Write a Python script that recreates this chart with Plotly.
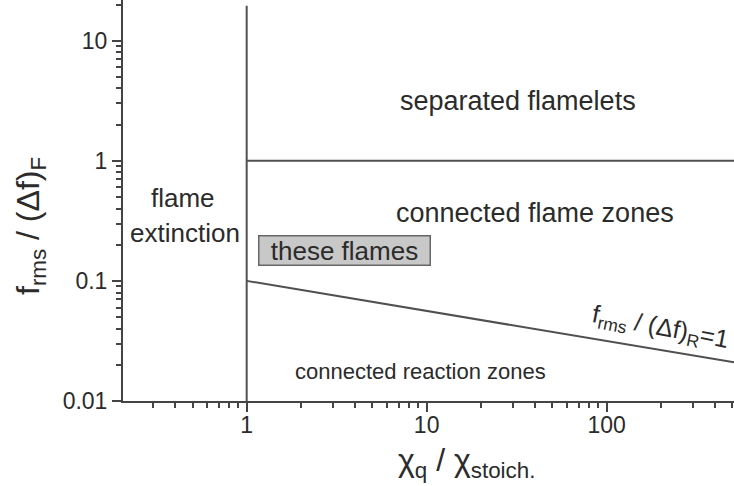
import numpy as np
import plotly.graph_objects as go

# Regime boundary lines (data coordinates)
ext_x = [1, 1]
ext_y = [0.01, 19.5]
sep_x = [1, 510]
sep_y = [1, 1]
rz_x = [1, 510]
rz_y = [0.1, 0.021]

x_tickvals = [1, 10, 100]
x_ticktext = ["1", "10", "100"]
y_tickvals = [0.01, 0.1, 1, 10]
y_ticktext = ["0.01", "0.1", "1", "10"]
x_minor = [m * 10.0 ** e for e in (-1, 0, 1, 2) for m in range(2, 10)]
y_minor = [m * 10.0 ** e for e in (-2, -1, 0, 1) for m in range(2, 10)]

LINE = "#505050"
TXT = "#2b2b2b"
FONT = "Liberation Sans, Arial, sans-serif"

fig = go.Figure()
for xs, ys in [(ext_x, ext_y), (sep_x, sep_y), (rz_x, rz_y)]:
    fig.add_trace(go.Scatter(x=xs, y=ys, mode="lines",
                             line=dict(color=LINE, width=2), showlegend=False,
                             hoverinfo="skip"))

W, H = 734, 486
L, R, T, B = 123, 0, 0, 85
pw, ph = W - L - R, H - T - B


def px(x):
    return (x - L) / pw


def py(y):
    return (H - B - y) / ph


def ann(text, x, y, size, **kw):
    d = dict(text=text, x=px(x), y=py(y), xref="paper", yref="paper",
             showarrow=False, xanchor="center", yanchor="middle",
             font=dict(size=size, color=TXT, family=FONT))
    d.update(kw)
    fig.add_annotation(**d)


ann("separated flamelets", 518, 101, 27)
ann("connected flame zones", 535, 213, 27)
ann("flame", 183, 198, 26)
ann("extinction", 185, 233, 26)
ann("these flames", 344, 250, 26, bgcolor="#c8c8c8", bordercolor="#666666",
    borderwidth=1.5, width=168, height=26)
ann("connected reaction zones", 420, 371, 22)
ann("f<sub>rms</sub> / (Δf)<sub>R</sub>=1", 660, 328, 25, textangle=11)
ann("χ<sub>q</sub> / χ<sub>stoich.</sub>", 466, 462, 32)
ann("f<sub>rms</sub> / (Δf)<sub>F</sub>", 30, 226, 32, textangle=-90)

axis_common = dict(type="log", showgrid=False, zeroline=False, showline=True,
                   linecolor="#444444", linewidth=2, ticks="outside",
                   ticklen=9, tickwidth=2, tickcolor="#444444",
                   tickfont=dict(size=23, color=TXT, family=FONT))

fig.update_xaxes(range=[np.log10(0.2055), np.log10(510)],
                 tickmode="array", tickvals=x_tickvals, ticktext=x_ticktext,
                 ticklabelstandoff=-7,
                 minor=dict(tickmode="array", tickvals=x_minor, ticks="outside",
                            ticklen=5, tickwidth=2, tickcolor="#444444",
                            showgrid=False),
                 **axis_common)
fig.update_yaxes(range=[-2, np.log10(21.8)],
                 tickmode="array", tickvals=y_tickvals, ticktext=y_ticktext,
                 minor=dict(tickmode="array", tickvals=y_minor, ticks="outside",
                            ticklen=5, tickwidth=2, tickcolor="#444444",
                            showgrid=False),
                 **axis_common)

fig.update_layout(width=W, height=H, margin=dict(l=L, r=R, t=T, b=B),
                  plot_bgcolor="white", paper_bgcolor="white")

fig.write_html("out.html")
